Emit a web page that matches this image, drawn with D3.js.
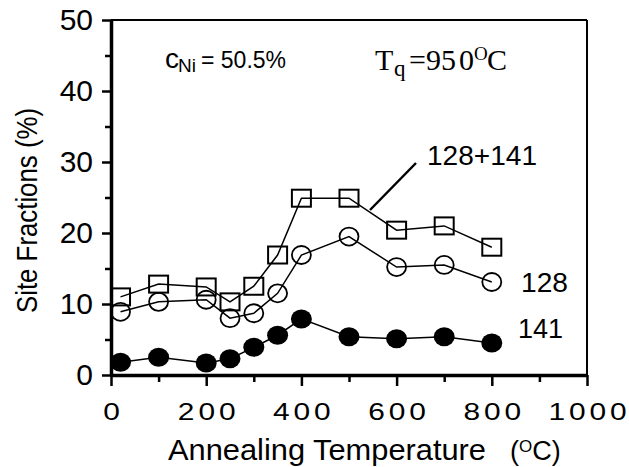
<!DOCTYPE html>
<html>
<head>
<meta charset="utf-8">
<script src="https://cdn.jsdelivr.net/npm/d3@7"></script>
<style>
	body{margin:0;background:#fff;}
	svg{display:block;}
	text{font-family:"Liberation Sans",Arial,sans-serif;fill:#000;}
	.serif{font-family:"Liberation Serif","Times New Roman",serif;}
</style>
</head>
<body>
<svg id="chart" width="629" height="467"></svg>
<script>
// annealing temperatures (oC)
const temps = [20, 100, 200, 250, 300, 350, 400, 500, 600, 700, 800];
// site fractions (%)
const site128_141 = [11.0, 12.8, 12.4, 10.3, 12.5, 16.9, 24.9, 24.9, 20.4, 21.0, 18.0];
const site128 = [8.9, 10.3, 10.6, 8.0, 8.7, 11.5, 16.9, 19.5, 15.2, 15.5, 13.1];
const site141 = [1.8, 2.5, 1.7, 2.3, 3.9, 5.6, 7.9, 5.4, 5.1, 5.4, 4.5];
// tick labels
const xTicks = [0, 200, 400, 600, 800, 1000];
const xMinor = [100, 300, 500, 700, 900];
const yTicks = [0, 10, 20, 30, 40, 50];
const yMinor = [5, 15, 25, 35, 45];

const svg = d3.select("#chart");
const x = d3.scaleLinear().domain([0, 1000]).range([111, 587]);
const y = d3.scaleLinear().domain([0, 50]).range([375, 20]);

//坐标轴：小刻度
svg.append("g")
	.attr("transform", `translate(0,${y(0)})`)
	.call(d3.axisBottom(x).tickValues(xMinor).tickSize(7).tickSizeOuter(0).tickFormat(""))
	.call(g => g.select(".domain").remove());
svg.append("g")
	.attr("transform", `translate(${x(0)},0)`)
	.call(d3.axisLeft(y).tickValues(yMinor).tickSize(6).tickSizeOuter(0).tickFormat(""))
	.call(g => g.select(".domain").remove());
//坐标轴：主刻度
const gx = svg.append("g")
	.attr("transform", `translate(0,${y(0)})`)
	.call(d3.axisBottom(x).tickValues(xTicks).tickFormat(d3.format("d"))
		.tickSize(11).tickSizeOuter(0).tickPadding(18));
const gy = svg.append("g")
	.attr("transform", `translate(${x(0)},0)`)
	.call(d3.axisLeft(y).tickValues(yTicks).tickSize(9).tickSizeOuter(0).tickPadding(9));
svg.selectAll(".tick line").attr("stroke", "#000").attr("stroke-width", 2.5);
gx.select(".domain").attr("stroke-width", 3.5);
gy.select(".domain").attr("stroke-width", 3.5);
//x轴数字较宽，横向拉伸
gx.selectAll("text")
	.attr("font-size", 23)
	.attr("letter-spacing", 3)
	.attr("dx", 1.5)
	.attr("transform", "scale(1.3,1)")
	.attr("font-family", null);
gy.selectAll("text")
	.attr("font-size", 30)
	.attr("font-family", null);
//上边框和右边框
svg.append("line").attr("x1", x(0)).attr("x2", x(1000)).attr("y1", y(50)).attr("y2", y(50))
	.attr("stroke", "#000").attr("stroke-width", 2);
svg.append("line").attr("x1", x(1000)).attr("x2", x(1000)).attr("y1", y(50)).attr("y2", y(0))
	.attr("stroke", "#000").attr("stroke-width", 2);

//折线
const line = d3.line().x((d, i) => x(temps[i])).y(d => y(d));
[site128_141, site128, site141].forEach(s => {
	svg.append("path")
		.datum(s)
		.attr("d", line)
		.attr("fill", "none")
		.attr("stroke", "#000")
		.attr("stroke-width", 1.5);
});
//方形：128+141
svg.append("g").selectAll("rect")
	.data(site128_141)
	.enter()
	.append("rect")
	.attr("x", (d, i) => x(temps[i]) - 9.5)
	.attr("y", d => y(d) - 8.5)
	.attr("width", 19)
	.attr("height", 17)
	.attr("fill", "none")
	.attr("stroke", "#000")
	.attr("stroke-width", 2);
//空心圆：128
svg.append("g").selectAll("ellipse")
	.data(site128)
	.enter()
	.append("ellipse")
	.attr("cx", (d, i) => x(temps[i]))
	.attr("cy", d => y(d))
	.attr("rx", 9.5)
	.attr("ry", 9)
	.attr("fill", "none")
	.attr("stroke", "#000")
	.attr("stroke-width", 1.8);
//实心圆：141
svg.append("g").selectAll("ellipse")
	.data(site141)
	.enter()
	.append("ellipse")
	.attr("cx", (d, i) => x(temps[i]))
	.attr("cy", d => y(d))
	.attr("rx", 10.5)
	.attr("ry", 9.5)
	.attr("fill", "#000");

//标注
svg.append("line").attr("x1", 370).attr("y1", 210).attr("x2", 416).attr("y2", 163)
	.attr("stroke", "#000").attr("stroke-width", 2.5);
svg.append("text").attr("x", 427).attr("y", 165).attr("font-size", 28)
	.attr("textLength", 110).attr("lengthAdjust", "spacingAndGlyphs").text("128+141");
svg.append("text").attr("x", 521).attr("y", 292).attr("font-size", 27)
	.attr("textLength", 47).attr("lengthAdjust", "spacingAndGlyphs").text("128");
svg.append("text").attr("x", 518).attr("y", 338).attr("font-size", 27)
	.attr("textLength", 45).attr("lengthAdjust", "spacingAndGlyphs").text("141");

const cni = svg.append("text").attr("x", 165).attr("y", 68);
cni.append("tspan").attr("font-size", 28).text("c");
cni.append("tspan").attr("x", 178).attr("dy", 4).attr("font-size", 19).text("Ni");
cni.append("tspan").attr("x", 201).attr("dy", -4).attr("font-size", 23).text("= 50.5%");

const tq = svg.append("text").attr("class", "serif").attr("x", 375).attr("y", 70);
tq.append("tspan").attr("font-size", 30).text("T");
tq.append("tspan").attr("x", 394).attr("dy", 6).attr("font-size", 23).text("q");
tq.append("tspan").attr("x", 409).attr("dy", -6).attr("font-size", 30).text("=95");
tq.append("tspan").attr("x", 459).attr("font-size", 30).text("0");
tq.append("tspan").attr("x", 474).attr("dy", -10).attr("font-size", 19).text("O");
tq.append("tspan").attr("x", 487).attr("dy", 10).attr("font-size", 30).text("C");

//坐标轴说明
svg.append("text").attr("x", 168).attr("y", 460).attr("font-size", 29)
	.attr("textLength", 318).attr("lengthAdjust", "spacingAndGlyphs").text("Annealing Temperature");
const unit = svg.append("text").attr("x", 510).attr("y", 460);
unit.append("tspan").attr("font-size", 27).text("(");
unit.append("tspan").attr("dy", -8).attr("font-size", 17).text("O");
unit.append("tspan").attr("dy", 8).attr("font-size", 27).text("C)");
svg.append("text")
	.attr("transform", "translate(37,313) rotate(-90)")
	.attr("font-size", 30)
	.attr("textLength", 205).attr("lengthAdjust", "spacingAndGlyphs")
	.text("Site Fractions (%)");
</script>
</body>
</html>
